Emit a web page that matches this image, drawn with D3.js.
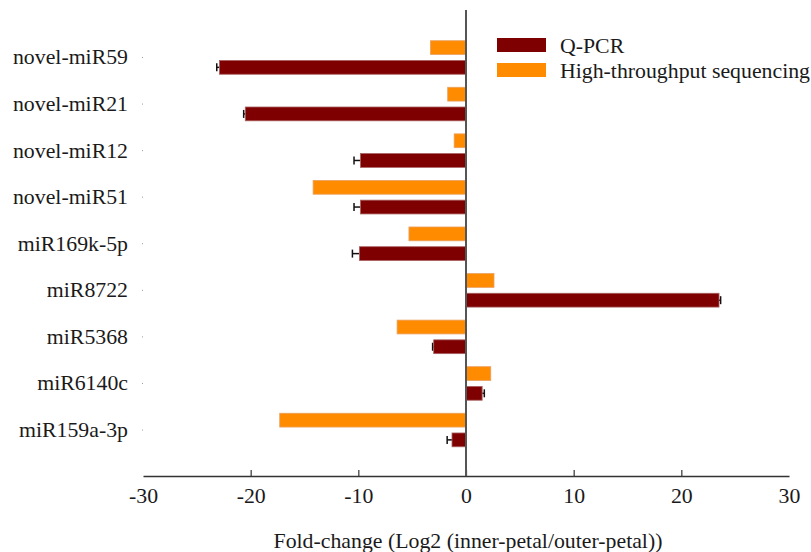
<!DOCTYPE html>
<html>
<head>
<meta charset="utf-8">
<script src="https://cdn.jsdelivr.net/npm/d3@7"></script>
<style>
  body { margin: 0; background: #fff; }
</style>
</head>
<body>
<script>
var categories = ["novel-miR59", "novel-miR21", "novel-miR12", "novel-miR51", "miR169k-5p",
                  "miR8722", "miR5368", "miR6140c", "miR159a-3p"];
var seqValues = [-3.3, -1.7, -1.1, -14.2, -5.3, 2.6, -6.4, 2.3, -17.3];
var qpcrValues = [-22.9, -20.5, -9.8, -9.8, -9.9, 23.5, -3.0, 1.5, -1.3];
var qpcrErrors = [0.25, 0.15, 0.6, 0.6, 0.65, 0.15, 0.1, 0.2, 0.45];
var xTicks = [-30, -20, -10, 0, 10, 20, 30];
var seriesNames = ["Q-PCR", "High-throughput sequencing"];

var w = 811, h = 552;
var red = "#7f0000", orange = "#ff8c00";
var font = "'Liberation Serif', 'Times New Roman', serif";
var fontSize = "21.8px";

var svg = d3.select("body").append("svg")
    .attr("width", w)
    .attr("height", h);

// scales
var xScale = d3.scaleLinear().domain([-30, 30]).range([143, 789]);
var yScale = d3.scaleBand()
    .domain(categories)
    .range([34.2, 453.3])
    .paddingInner(0.28)
    .paddingOuter(0.14);
var sub = d3.scaleBand()
    .domain(["seq", "qpcr"])
    .range([0, yScale.bandwidth()])
    .paddingInner(0.3);

var rows = categories.map(function (c, i) {
    return { name: c, seq: seqValues[i], qpcr: qpcrValues[i], err: qpcrErrors[i] };
});

// x axis
var xAxis = svg.append("g")
    .attr("transform", "translate(0,476)")
    .call(d3.axisBottom(xScale)
        .tickValues(xTicks)
        .tickFormat(function (d) { return String(d); })
        .tickSize(-6).tickPadding(12).tickSizeOuter(0));
xAxis.select(".domain").attr("stroke", "#333").attr("stroke-width", 1.5);
xAxis.selectAll(".tick line").attr("stroke", "#333").attr("stroke-width", 1.2)
    .attr("display", function (d) { return (d === -30 || d === 30) ? "none" : null; });
xAxis.selectAll(".tick text")
    .style("font-family", font)
    .style("font-size", fontSize)
    .attr("fill", "#1a1a1a");

// category labels with tiny ticks
var yAxis = svg.append("g")
    .attr("transform", "translate(143,0)")
    .call(d3.axisLeft(yScale).tickSize(1).tickPadding(14));
yAxis.select(".domain").remove();
yAxis.selectAll(".tick line").attr("stroke", "#999");
yAxis.selectAll(".tick text")
    .style("font-family", font)
    .style("font-size", fontSize)
    .attr("fill", "#1a1a1a");

var groups = svg.selectAll("g.row")
    .data(rows)
    .enter()
    .append("g")
    .attr("class", "row")
    .attr("transform", function (d) { return "translate(0," + yScale(d.name) + ")"; });

// error bars (Q-PCR only, outer side)
groups.each(function (d) {
    var g = d3.select(this);
    var yc = sub("qpcr") + sub.bandwidth() / 2;
    var end = d.qpcr < 0 ? d.qpcr - d.err : d.qpcr + d.err;
    g.append("line")
        .attr("x1", xScale(d.qpcr)).attr("x2", xScale(end))
        .attr("y1", yc).attr("y2", yc)
        .attr("stroke", "#111").attr("stroke-width", 1.5);
    g.append("line")
        .attr("x1", xScale(end)).attr("x2", xScale(end))
        .attr("y1", yc - 4).attr("y2", yc + 4)
        .attr("stroke", "#111").attr("stroke-width", 1.5);
});

groups.append("rect")
    .attr("x", function (d) { return xScale(Math.min(0, d.seq)); })
    .attr("y", sub("seq"))
    .attr("width", function (d) { return Math.abs(xScale(d.seq) - xScale(0)); })
    .attr("height", sub.bandwidth())
    .attr("fill", orange)
    .attr("stroke", "#e9a060")
    .attr("stroke-width", 0.8);

groups.append("rect")
    .attr("x", function (d) { return xScale(Math.min(0, d.qpcr)); })
    .attr("y", sub("qpcr"))
    .attr("width", function (d) { return Math.abs(xScale(d.qpcr) - xScale(0)); })
    .attr("height", sub.bandwidth())
    .attr("fill", red)
    .attr("stroke", "#a86060")
    .attr("stroke-width", 0.8);

// zero line on top of bars
svg.append("line")
    .attr("x1", xScale(0)).attr("x2", xScale(0))
    .attr("y1", 10).attr("y2", 476)
    .attr("stroke", "#555").attr("stroke-width", 2);

// legend
var legend = svg.append("g").attr("transform", "translate(497,38)");
var legendColors = [red, orange];
seriesNames.forEach(function (name, i) {
    legend.append("rect")
        .attr("x", 0).attr("y", i * 25)
        .attr("width", 49).attr("height", 14)
        .attr("fill", legendColors[i]);
    legend.append("text")
        .attr("x", 63).attr("y", i * 25 + 7)
        .attr("dy", "0.35em")
        .style("font-family", font)
        .style("font-size", fontSize)
        .attr("fill", "#1a1a1a")
        .text(name);
});

// x axis title
svg.append("text")
    .attr("x", 468).attr("y", 540)
    .attr("dy", "0.35em")
    .attr("text-anchor", "middle")
    .style("font-family", font)
    .style("font-size", fontSize)
    .attr("fill", "#1a1a1a")
    .text("Fold-change (Log2 (inner-petal/outer-petal))");
</script>
</body>
</html>
